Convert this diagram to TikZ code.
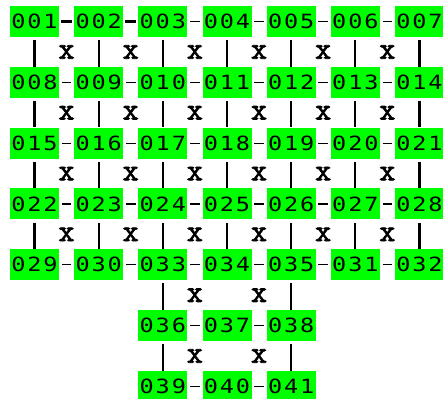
\documentclass[tikz,border=0pt]{standalone}
\usepackage{fontspec}
\newfontfamily\digfont[FakeStretch=1.2]{DejaVu Sans Mono}
\newfontfamily\crossfont[FakeBold=2.5]{Latin Modern Mono}
\definecolor{cellgreen}{RGB}{0,255,0}
\newcommand\trip[3]{\makebox[16.04pt]{#1}\makebox[16.04pt]{#2}\makebox[16.04pt]{#3}}
\begin{document}
\begin{tikzpicture}[x=1pt,y=1pt,
  num/.style={fill=cellgreen, inner sep=0pt, minimum width=49pt, minimum height=31pt,
    font=\digfont\fontsize{19.6}{20}\selectfont, text=black},
  hlink/.style={line width=1.2pt, shorten <=2.5pt, shorten >=2.5pt},
  hbold/.style={line width=3pt, shorten <=2pt, shorten >=2pt},
  vlink/.style={line width=2.2pt, shorten <=3pt},
  cross/.style={font=\crossfont\fontsize{31}{31}\selectfont, inner sep=0pt, text=black}]
\useasboundingbox (0,0) rectangle (443,-398);
% number cells
\foreach \r/\lst/\s in {
  0/{001,002,003,004,005,006,007}/0,
  1/{008,009,010,011,012,013,014}/0,
  2/{015,016,017,018,019,020,021}/0,
  3/{022,023,024,025,026,027,028}/0,
  4/{029,030,033,034,035,031,032}/0,
  5/{036,037,038}/2,
  6/{039,040,041}/2} {
  \foreach \n [count=\c from \s] in \lst {
    \node[num] (g\r c\c) at ({34.5+64.17*\c},{-21.5-60.8*\r}) {\expandafter\trip\n};
  }
}
% horizontal connectors
\draw[hbold] (g0c0) -- (g0c1);
\draw[hbold] (g0c1) -- (g0c2);
\foreach \a/\b in {2/3,3/4,4/5,5/6}
  \draw[hlink] (g0c\a) -- (g0c\b);
\foreach \r in {1,2,3,4} {
  \foreach \a/\b in {0/1,1/2,2/3,3/4,4/5,5/6} {
    \draw[hlink] (g\r c\a) -- (g\r c\b);
  }
}
\foreach \r in {5,6} {
  \foreach \a/\b in {2/3,3/4} {
    \draw[hlink] (g\r c\a) -- (g\r c\b);
  }
}
% vertical connectors
\foreach \r/\d in {0/1,1/2,2/3,3/4} {
  \foreach \c in {0,...,6} {
    \draw[vlink] (g\r c\c) -- (g\d c\c);
  }
}
\foreach \r/\d in {4/5,5/6} {
  \foreach \c in {2,4} {
    \draw[vlink] (g\r c\c) -- (g\d c\c);
  }
}
% crosses
\foreach \r in {0,...,3} {
  \foreach \c in {0,...,5} {
    \node[cross] (x\r c\c) at ({66.5+64.17*\c},{-52-60.8*\r}) {x};
  }
}
\foreach \r in {4,5} {
  \foreach \c in {2,3} {
    \node[cross] (x\r c\c) at ({66.5+64.17*\c},{-52-60.8*\r}) {x};
  }
}
\end{tikzpicture}
\end{document}
